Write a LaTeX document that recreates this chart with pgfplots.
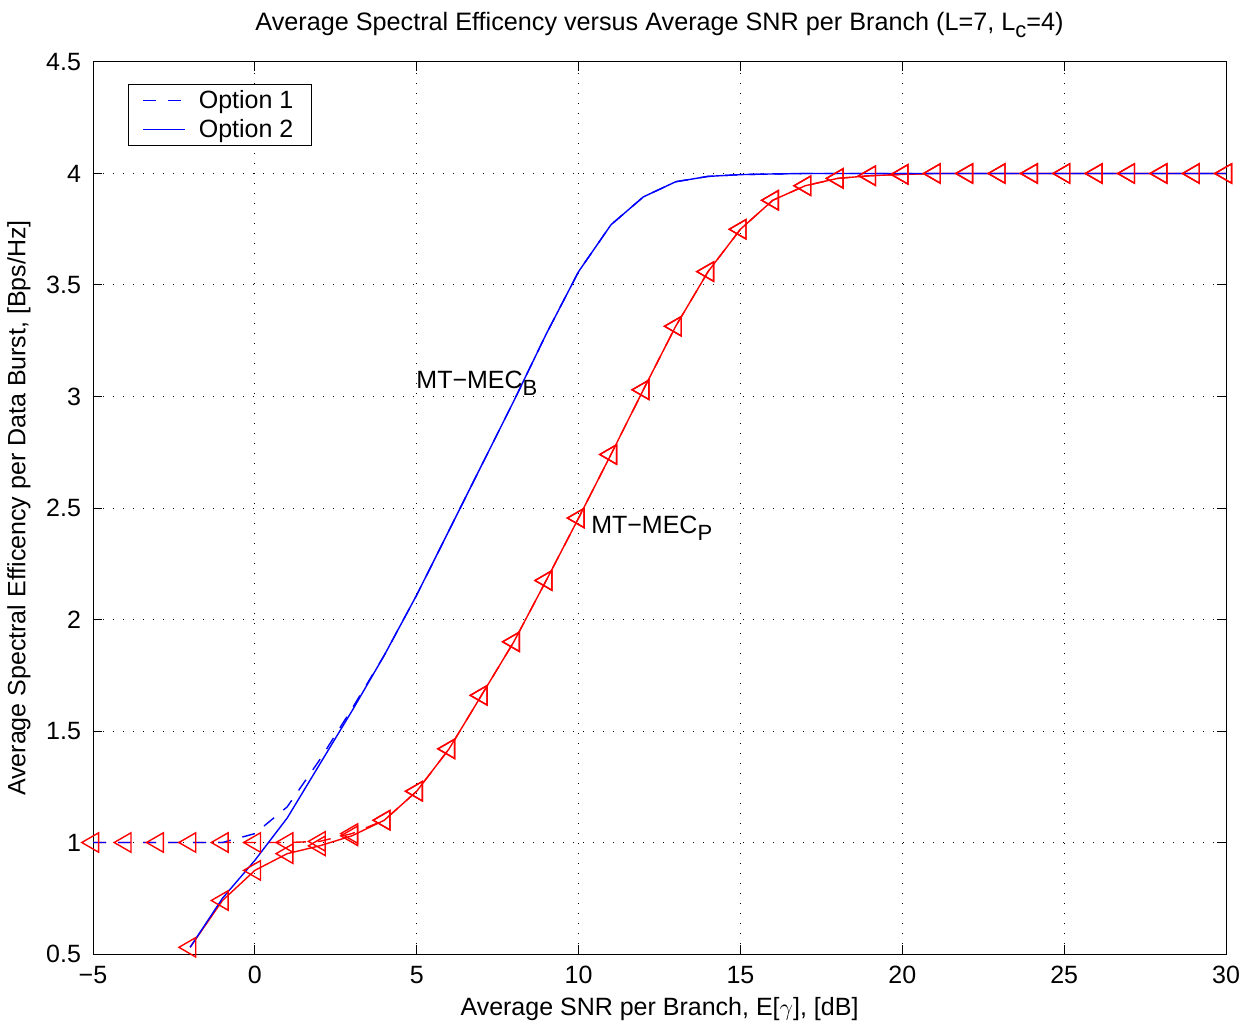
\documentclass[border=0pt]{standalone}
\usepackage{fontspec}
\setmainfont{Liberation Sans}
\usepackage{pgfplots}
\pgfplotsset{compat=1.18}

\definecolor{mblue}{rgb}{0,0,1}
\definecolor{mred}{rgb}{1,0,0}

\newcommand{\lsub}[1]{\raisebox{-0.55ex}{\fontsize{11}{12}\selectfont #1}}

\begin{document}
\begin{tikzpicture}
\begin{axis}[
    name=ax,
    scale only axis,
    width=566.5pt, height=446pt,
    xmin=-5, xmax=30, ymin=0.5, ymax=4.5,
    xtick={-5,0,5,10,15,20,25,30},
    xticklabels={−5,0,5,10,15,20,25,30},
    ytick={0.5,1,1.5,2,2.5,3,3.5,4,4.5},
    yticklabels={0.5,1,1.5,2,2.5,3,3.5,4,4.5},
    tick align=inside,
    major tick length=4.5pt,
    tick style={black, line width=0.5pt},
    axis line style={line width=0.5pt},
    grid=major,
    major grid style={black, line width=0.5pt, dash pattern=on 0.6pt off 4.4pt},
    tick label style={font=\fontsize{12.5}{14}\selectfont},
    xticklabel style={yshift=-2.5pt},
    yticklabel style={xshift=-2.5pt},
    label style={font=\fontsize{12.5}{14}\selectfont},
    title style={font=\fontsize{12.6}{14}\selectfont, yshift=2.5pt},
    title={Average Spectral Efficency versus Average SNR per Branch (L=7, L\lsub{c}=4)},
    xlabel={Average SNR per Branch, E[$\gamma$], [dB]},
    ylabel={Average Spectral Efficency per Data Burst, [Bps/Hz]},
    xlabel style={yshift=0pt},
    ylabel style={yshift=1pt},
    legend style={at={(0,1)}, anchor=north west, xshift=17.5pt, yshift=-11pt,
        font=\fontsize{12.5}{14}\selectfont,
        inner xsep=7pt, inner ysep=0.8pt, row sep=0pt, column sep=4.5pt},
    legend cell align=left,
    legend image code/.code={\draw[#1, line width=0.7pt, draw=mblue] (0pt,0pt) -- (21pt,0pt);},
]

% MT-MEC_P, option 1
\addplot[mred, line width=0.7pt, dash pattern=on 6.5pt off 6pt, mark=triangle,
    mark size=5.6pt, mark options={solid, rotate=90}, forget plot] coordinates {
(-5,1.0) (-4,1.0) (-3,1.0) (-2,1.0) (-1,1.0) (0,1.0) (1,1.0) (2,1.005)
(3,1.04) (4,1.10) (5,1.23) (6,1.42) (7,1.66) (8,1.90) (9,2.175) (10,2.455)
(11,2.74) (12,3.03) (13,3.315) (14,3.56) (15,3.75) (16,3.88) (17,3.945)
(18,3.978) (19,3.99) (20,3.996) (21,4) (22,4) (23,4) (24,4) (25,4) (26,4)
(27,4) (28,4) (29,4) (30,4)
};

% MT-MEC_P, option 2
\addplot[mred, line width=0.7pt, mark=triangle,
    mark size=5.6pt, mark options={rotate=90}, forget plot] coordinates {
(-2,0.53) (-1,0.74) (0,0.875) (1,0.95) (2,0.985) (3,1.03) (4,1.10)
(5,1.23) (6,1.42) (7,1.66) (8,1.90) (9,2.175) (10,2.455) (11,2.74)
(12,3.03) (13,3.315) (14,3.56) (15,3.75) (16,3.88) (17,3.945) (18,3.978)
(19,3.99) (20,3.996) (21,4) (22,4) (23,4) (24,4) (25,4) (26,4) (27,4)
(28,4) (29,4) (30,4)
};

% MT-MEC_B, option 1
\addplot[mblue, line width=0.7pt, dash pattern=on 6.5pt off 6pt] coordinates {
(-5,1.0) (-4,1.0) (-3,1.0) (-2,1.0) (-1,1.0) (0,1.04) (1,1.16) (2,1.37)
(3,1.60) (4,1.84) (5,2.11) (6,2.40) (7,2.69) (8,2.98) (9,3.28) (10,3.56)
(11,3.77) (12,3.895) (13,3.963) (14,3.987) (15,3.995) (16,3.998) (17,4)
(18,4) (19,4) (20,4) (21,4) (22,4) (23,4) (24,4) (25,4) (26,4) (27,4)
(28,4) (29,4) (30,4)
};
\addlegendentry{Option 1}

% MT-MEC_B, option 2
\addplot[mblue, line width=0.7pt] coordinates {
(-2,0.53) (-1,0.75) (0,0.92) (1,1.11) (2,1.35) (3,1.59) (4,1.84)
(5,2.11) (6,2.40) (7,2.69) (8,2.98) (9,3.28) (10,3.56) (11,3.77)
(12,3.895) (13,3.963) (14,3.987) (15,3.995) (16,3.998) (17,4) (18,4)
(19,4) (20,4) (21,4) (22,4) (23,4) (24,4) (25,4) (26,4) (27,4) (28,4)
(29,4) (30,4)
};
\addlegendentry{Option 2}

\node[anchor=west, inner sep=0pt, font=\fontsize{12.5}{14}\selectfont]
    at (axis cs:4.98,3.06) {MT−MEC\lsub{B}};
\node[anchor=west, inner sep=0pt, font=\fontsize{12.5}{14}\selectfont]
    at (axis cs:10.38,2.41) {MT−MEC\lsub{P}};

\end{axis}
\path (ax.south west) ++(-46.5pt,-33.5pt) coordinate (bl);
\path (ax.north east) ++(8.5pt,31pt) coordinate (tr);
\pgfresetboundingbox
\path[use as bounding box] (bl) rectangle (tr);
\end{tikzpicture}
\end{document}
